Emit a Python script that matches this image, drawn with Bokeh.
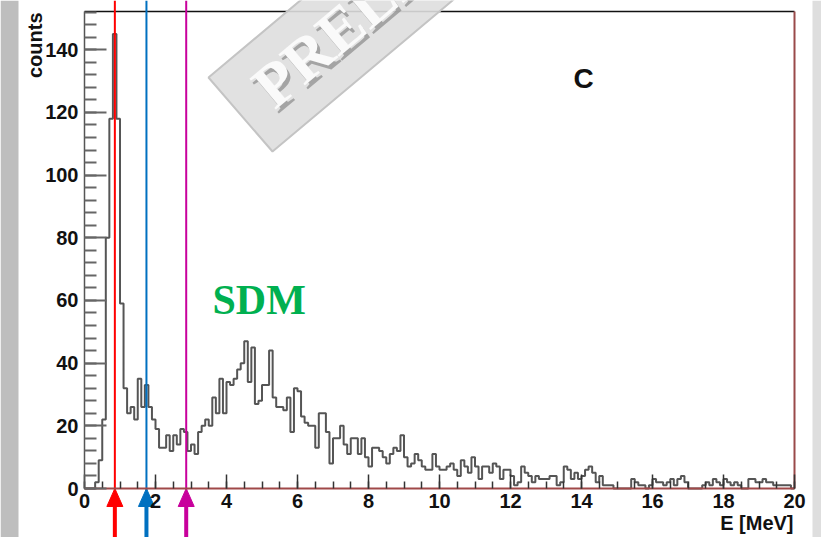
import math
from bokeh.plotting import figure
from bokeh.models import Range1d, SingleIntervalTicker, Label
from bokeh.embed import file_html
from bokeh.resources import INLINE

# ---------------- data ----------------
bin_width = 0.1
counts = [
    0, 0, 0, 2, 9, 22, 80, 118, 145, 118,
    59, 32, 24, 26, 22, 35, 26, 33, 26, 22,
    19, 13, 13, 17, 12, 17, 14, 19, 18, 12,
    14, 11, 18, 20, 22, 20, 29, 24, 35, 24,
    34, 33, 35, 38, 40, 47, 34, 45, 27, 28,
    33, 33, 44, 29, 26, 26, 25, 29, 18, 32,
    31, 23, 21, 20, 20, 13, 24, 24, 18, 8,
    16, 16, 20, 14, 11, 16, 16, 11, 16, 10,
    7, 13, 13, 12, 10, 8, 11, 13, 12, 17,
    10, 7, 8, 11, 9, 7, 6, 6, 11, 7,
    6, 6, 7, 8, 6, 4, 9, 7, 5, 10,
    7, 3, 7, 7, 5, 8, 7, 3, 6, 6,
    4, 1, 2, 7, 5, 4, 2, 4, 3, 3,
    3, 4, 4, 1, 2, 7, 6, 3, 5, 3,
    4, 6, 7, 5, 2, 4, 1, 1, 1, 0,
    0, 0, 0, 0, 3, 2, 1, 1, 0, 1,
    3, 2, 2, 1, 2, 3, 1, 3, 4, 2,
    0, 0, 0, 0, 1, 2, 1, 3, 2, 1,
    3, 2, 1, 2, 1, 0, 0, 3, 3, 2,
    2, 3, 2, 2, 1, 1, 1, 1, 1, 0,
]
marker_energies = [0.855, 1.745, 2.865]          # MeV
marker_colors = ["#ff0000", "#0070c0", "#c8009c"]
x_min, x_max = 0.0, 20.0
y_min, y_max = 0.0, 152.2
x_ticks_interval = 2
y_ticks_interval = 20
x_label = "E [MeV]"
y_label = "counts"
panel_label = "C"
peak_label = "SDM"
watermark = "PRELIMINARY"

# ---------------- layout constants (page pixels) ----------------
W, H = 821, 537
AX_L, AX_R, AX_T, AX_B = 84, 794, 11, 488     # axes box in page pixels
SX = (x_max - x_min) / (AX_R - AX_L)          # data per pixel
SY = (y_max - y_min) / (AX_B - AX_T)


def dx(px):
    return x_min + (px - AX_L) * SX


def dy(py):
    return y_min + (AX_B - py) * SY


p = figure(width=W, height=H, output_backend="svg", toolbar_location=None,
           x_range=Range1d(dx(0), dx(W)), y_range=Range1d(dy(H), dy(0)),
           min_border=0, min_border_left=0, min_border_right=0,
           min_border_top=0, min_border_bottom=0)
p.background_fill_color = "white"
p.border_fill_color = "white"
p.outline_line_color = None
p.xgrid.visible = False
p.ygrid.visible = False

# ---- axes (fixed at the data origin) ----
p.xaxis.fixed_location = y_min
p.yaxis.fixed_location = x_min
p.xaxis.bounds = (x_min, x_max)
p.yaxis.bounds = (y_min, y_max)
p.xaxis.ticker = SingleIntervalTicker(interval=x_ticks_interval, num_minor_ticks=4)
p.yaxis.ticker = SingleIntervalTicker(interval=y_ticks_interval, num_minor_ticks=5)
for ax in (p.xaxis, p.yaxis):
    ax.major_label_text_font = "Liberation Sans"
    ax.major_label_text_font_style = "bold"
    ax.major_label_text_font_size = "20px"
    ax.major_label_text_color = "#111111"
    ax.major_tick_out = 0
    ax.minor_tick_out = 0
p.xaxis.major_tick_in = 14
p.xaxis.minor_tick_in = 7
p.xaxis.major_tick_line_color = "#333333"
p.xaxis.minor_tick_line_color = "#333333"
p.xaxis.major_tick_line_width = 1.5
p.xaxis.minor_tick_line_width = 1.5
p.xaxis.axis_line_color = "#a04848"
p.xaxis.axis_line_width = 2
p.xaxis.major_label_standoff = 5
p.yaxis.major_tick_in = 22
p.yaxis.minor_tick_in = 12
p.yaxis.major_tick_line_color = "#666666"
p.yaxis.minor_tick_line_color = "#666666"
p.yaxis.major_tick_line_width = 2
p.yaxis.minor_tick_line_width = 2
p.yaxis.axis_line_color = "#555555"
p.yaxis.axis_line_width = 1.5
p.yaxis.major_label_standoff = 6

# ---- page side stripes ----
p.quad(left=[dx(0)], right=[dx(18)], bottom=[dy(H)], top=[dy(0)],
       fill_color="#bebebe", line_alpha=0)
p.quad(left=[dx(812)], right=[dx(W)], bottom=[dy(H)], top=[dy(0)],
       fill_color="#dedede", line_alpha=0)

# ---- frame top and right edges ----
p.line(x=[x_min, x_max], y=[y_max, y_max], line_color="#111111", line_width=1.5)
p.line(x=[x_max, x_max], y=[y_min, y_max], line_color="#9a4a4a", line_width=2)

# ---- histogram ----
edges = [x_min + i * bin_width for i in range(len(counts))] + [x_min + len(counts) * bin_width]
yvals = list(counts) + [counts[-1]]
p.step(x=edges, y=yvals, mode="after", line_color="#555555", line_width=2)

# ---- watermark ----
ang = math.radians(40)
ux, uy = math.cos(ang), -math.sin(ang)      # along the band (page coords)
nx, ny = -math.sin(ang), -math.cos(ang)     # "up" for the rotated text
A = (208, 77)
B = (272, 151)
L = 450
C = (B[0] + L * ux, B[1] + L * uy)
D = (A[0] + L * ux, A[1] + L * uy)
p.patch(x=[dx(A[0]), dx(B[0]), dx(C[0]), dx(D[0])],
        y=[dy(A[1]), dy(B[1]), dy(C[1]), dy(D[1])],
        fill_color="#dedede", fill_alpha=0.9, line_color="#c4c4c4", line_width=2)
wm_size = 62
wm_shift = 0.38 * wm_size
base = (276 + nx * wm_shift, 112 + ny * wm_shift)
p.add_layout(Label(x=dx(base[0] + 3), y=dy(base[1] + 4), text=watermark, angle=40, angle_units="deg",
                   text_font="Liberation Serif", text_font_style="bold",
                   text_font_size=f"{wm_size}px", text_color="#8a8a8a", text_alpha=0.7,
                   text_align="left", text_baseline="alphabetic"))
p.add_layout(Label(x=dx(base[0]), y=dy(base[1]), text=watermark, angle=40, angle_units="deg",
                   text_font="Liberation Serif", text_font_style="bold",
                   text_font_size=f"{wm_size}px", text_color="#fafafa",
                   text_align="left", text_baseline="alphabetic"))

# ---- marker lines with arrows ----
hw = 8 * SX
sw = 2 * SX
p.segment(x0=marker_energies, y0=[dy(0)] * 3, x1=marker_energies, y1=[dy(490)] * 3,
          line_color=marker_colors, line_width=2)
p.patches(xs=[[e - hw, e, e + hw] for e in marker_energies],
          ys=[[dy(506), dy(488), dy(506)] for _ in marker_energies],
          fill_color=marker_colors, line_color=marker_colors, line_width=1)
p.quad(left=[e - sw for e in marker_energies], right=[e + sw for e in marker_energies],
       bottom=[dy(H)] * 3, top=[dy(505)] * 3, fill_color=marker_colors, line_alpha=0)

# ---- texts ----
p.add_layout(Label(x=dx(34), y=dy(12), text=y_label, angle=90, angle_units="deg",
                   text_font="Liberation Sans", text_font_style="bold",
                   text_font_size="20px", text_color="#111111",
                   text_align="right", text_baseline="alphabetic"))
p.add_layout(Label(x=dx(793), y=dy(522), text=x_label,
                   text_font="Liberation Sans", text_font_style="bold",
                   text_font_size="20px", text_color="#111111",
                   text_align="right", text_baseline="alphabetic"))
p.add_layout(Label(x=dx(573), y=dy(78), text=panel_label,
                   text_font="Liberation Sans", text_font_style="bold",
                   text_font_size="28px", text_color="#111111",
                   text_align="left", text_baseline="alphabetic"))
p.add_layout(Label(x=dx(212), y=dy(299), text=peak_label,
                   text_font="Liberation Serif", text_font_style="bold",
                   text_font_size="42px", text_color="#00b050",
                   text_align="left", text_baseline="alphabetic"))

open("out.html", "w").write(file_html(p, INLINE))
